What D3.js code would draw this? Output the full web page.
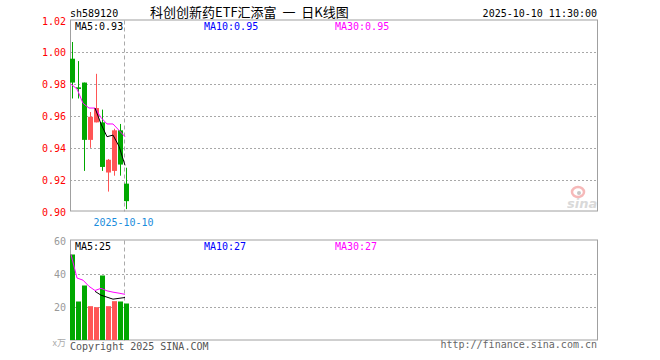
<!DOCTYPE html>
<html>
<head>
<meta charset="utf-8">
<script src="https://cdn.jsdelivr.net/npm/d3@7"></script>
<style>
  body { margin: 0; background: #fff; }
  svg { display: block; }
  text { font-family: "DejaVu Sans Mono", monospace; font-size: 10px; }
</style>
</head>
<body>
<div id="chart"></div>
<script>
// Daily K-line values
const symbol = 'sh589120';
const title = '科创创新药ETF汇添富 一 日K线图';
const stamp = '2025-10-10 11:30:00';

const opens  = [0.996, 0.978, 0.981, 0.945, 0.956, 0.956, 0.9245, 0.9255, 0.951, 0.9175];
const closes = [0.981, 0.977, 0.945, 0.9595, 0.965, 0.928, 0.9325, 0.951, 0.9295, 0.9065];
const highs  = [1.0065, 0.9945, 0.981, 0.9625, 0.9865, 0.964, 0.933, 0.952, 0.955, 0.9275];
const lows   = [0.971, 0.971, 0.9255, 0.940, 0.956, 0.9255, 0.9125, 0.9225, 0.9225, 0.9015];

const ma5Price  = [null, null, null, null, 0.965, 0.955, 0.947, 0.948, 0.941, 0.929];
const ma30Price = [0.980, 0.977, 0.968, 0.965, 0.965, 0.959, 0.955, 0.955, 0.951, 0.947];

const volumes = [51.6, 23.4, 33.0, 20.6, 20.0, 39.0, 20.6, 23.6, 23.4, 22.2];
const ma5Vol  = [null, null, null, null, 29.5, 27.2, 26.0, 24.8, 25.3, 25.8];
const ma30Vol = [51.6, 37.5, 36.2, 32.5, 30.0, 31.3, 29.8, 29.0, 28.4, 27.7];

const priceTicks = [0.90, 0.92, 0.94, 0.96, 0.98, 1.00, 1.02];
const volTicks = [20, 40, 60];
const dateTickIndex = [9];
const dateTickLabels = ['2025-10-10'];

const priceLegend = ['MA5:0.93', 'MA10:0.95', 'MA30:0.95'];
const volLegend = ['MA5:25', 'MA10:27', 'MA30:27'];

const W = 660, H = 360;
const left = 70, right = 598;
const slots = 88; // width of the x window in trading days
const up = '#ff5555', down = '#00a800', frame = '#a0a0a0';
const legendColors = ['#000', '#0000ff', '#ff00ff'];
const legendX = [75, 204, 335];

const svg = d3.select('#chart').append('svg')
    .attr('width', W).attr('height', H);

const x = d3.scaleLinear().domain([0, slots]).range([left, right]);
const yP = d3.scaleLinear().domain([0.90, 1.02]).range([211.5, 20.5]);
const yV = d3.scaleLinear().domain([0, 60]).range([340.5, 240.5]);

// header
svg.append('text').attr('x', 70).attr('y', 17).text(symbol);
svg.append('text').attr('x', 150).attr('y', 17)
    .style('font-family', '"Noto Sans CJK SC", sans-serif').style('font-size', '13px')
    .style('white-space', 'pre')
    .text(title.replace(/ /g, '\u00a0\u00a0'));
svg.append('text').attr('x', 597).attr('y', 17).attr('text-anchor', 'end').text(stamp);

// draws frame, grid and y labels of one panel
function panel(y, ticks, gridTicks, fmt, labelColor) {
    const [y0, y1] = y.range();
    const g = svg.append('g');
    g.selectAll('line.grid').data(gridTicks).enter().append('line')
        .attr('x1', left).attr('x2', right)
        .attr('y1', d => Math.round(y(d)) + 0.5).attr('y2', d => Math.round(y(d)) + 0.5)
        .attr('stroke', '#a8a8a8').attr('stroke-dasharray', '2,2');
    g.selectAll('text.tick').data(ticks).enter().append('text')
        .attr('x', 66).attr('y', d => y(d) + 4)
        .attr('text-anchor', 'end').attr('fill', labelColor)
        .text(fmt);
    // month separator
    g.selectAll('line.sep').data(dateTickIndex).enter().append('line')
        .attr('x1', d => x(d) + 0.5).attr('x2', d => x(d) + 0.5)
        .attr('y1', y1).attr('y2', y0)
        .attr('stroke', '#aaa').attr('stroke-dasharray', '4,3');
    g.append('rect')
        .attr('x', left + 0.5).attr('y', y1 - 0.5)
        .attr('width', right - left - 1).attr('height', y0 - y1)
        .attr('fill', 'none').attr('stroke', frame);
}

panel(yP, priceTicks, priceTicks.slice(1, -1), d => d.toFixed(2), '#ff0000');
panel(yV, volTicks, [20, 40], d => d, '#999');

// candles
const idx = d3.range(opens.length);
const color = i => closes[i] >= opens[i] ? up : down;

const candles = svg.append('g');
candles.selectAll('line').data(idx).enter().append('line')
    .attr('x1', i => x(i) + 2.5).attr('x2', i => x(i) + 2.5)
    .attr('y1', i => yP(highs[i])).attr('y2', i => yP(lows[i]))
    .attr('stroke', color);
candles.selectAll('rect').data(idx).enter().append('rect')
    .attr('x', i => x(i)).attr('width', 5)
    .attr('y', i => yP(Math.max(opens[i], closes[i])))
    .attr('height', i => Math.max(1, Math.abs(yP(opens[i]) - yP(closes[i]))))
    .attr('fill', color);

// volume bars
svg.append('g').selectAll('rect').data(idx).enter().append('rect')
    .attr('x', i => x(i)).attr('width', 5)
    .attr('y', i => yV(volumes[i]))
    .attr('height', i => yV(0) - yV(volumes[i]) - 0.5)
    .attr('fill', color);

// moving average lines
function maLine(values, y, stroke) {
    const line = d3.line()
        .defined(d => d != null)
        .x((d, i) => x(i) + 1)
        .y(d => y(d));
    svg.append('path').datum(values)
        .attr('d', line).attr('fill', 'none')
        .attr('stroke', stroke).attr('stroke-width', 1);
}
maLine(ma30Price, yP, '#ff00ff');
maLine(ma5Price, yP, '#000');
maLine(ma30Vol, yV, '#ff00ff');
maLine(ma5Vol, yV, '#000');

// legends
function legend(labels, yPos) {
    svg.append('g').selectAll('text').data(labels).enter().append('text')
        .attr('x', (d, i) => legendX[i]).attr('y', yPos)
        .attr('fill', (d, i) => legendColors[i])
        .text(d => d);
}
legend(priceLegend, 30);
legend(volLegend, 250);

// date labels
svg.append('g').selectAll('text').data(dateTickIndex).enter().append('text')
    .attr('x', d => x(d) - 0.5).attr('y', 226)
    .attr('text-anchor', 'middle').attr('fill', '#1a8cdc')
    .text((d, i) => dateTickLabels[i]);

// unit + footer
svg.append('text').attr('x', 66).attr('y', 346).attr('text-anchor', 'end')
    .attr('fill', '#aaa').style('font-family', '"Noto Sans CJK SC", sans-serif')
    .style('font-size', '9px').text('x万');
svg.append('text').attr('x', 70).attr('y', 350).attr('fill', '#555').text('Copyright 2025 SINA.COM');
svg.append('text').attr('x', 597).attr('y', 348).attr('text-anchor', 'end')
    .attr('fill', '#666').text('http://finance.sina.com.cn');

// faint sina watermark
const wm = svg.append('g').attr('opacity', 0.55);
wm.append('ellipse').attr('cx', 578).attr('cy', 192).attr('rx', 6).attr('ry', 5)
    .attr('fill', 'none').attr('stroke', '#f08080').attr('stroke-width', 2.5);
wm.append('circle').attr('cx', 579).attr('cy', 193).attr('r', 2).attr('fill', '#999');
wm.append('text').attr('x', 567).attr('y', 208)
    .style('font-family', '"DejaVu Sans", sans-serif').style('font-size', '13px')
    .style('font-style', 'italic').style('font-weight', 'bold')
    .attr('fill', '#bbb').text('sina');
</script>
</body>
</html>
